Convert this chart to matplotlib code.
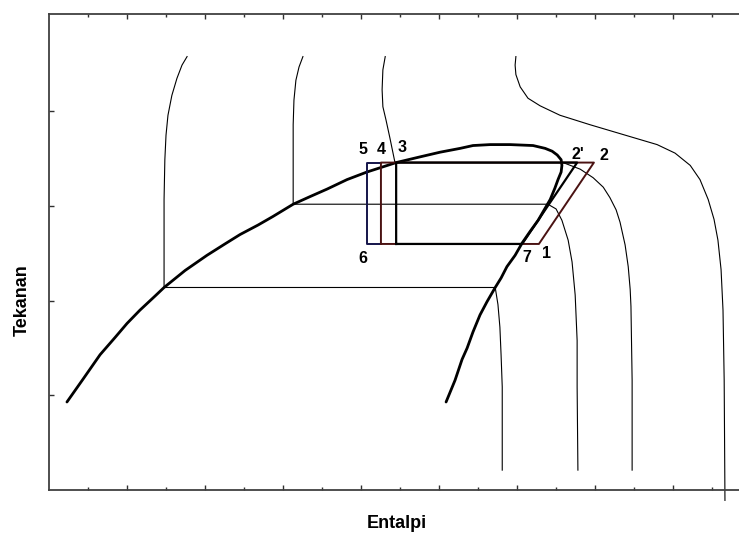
import numpy as np
from matplotlib import pyplot as plt

plt.rcParams['font.family'] = ['Liberation Sans', 'DejaVu Sans']

# saturation dome (enthalpy, pressure): liquid side -> top -> vapour side
dome_h = [0.46, 0.87, 1.31, 1.69, 2.00, 2.33, 2.72, 2.95, 3.49, 4.05, 4.51, 4.90,
          5.36, 5.74, 6.26, 6.69, 7.13, 7.64, 8.15, 8.90, 9.51, 10.03, 10.54, 10.87,
          11.31, 11.82, 12.41, 12.72, 12.90, 13.03, 13.13, 13.15, 13.13, 13.05,
          12.97, 12.90, 12.85,
          12.54, 12.33, 12.13, 11.95, 11.74, 11.59, 11.44, 11.23, 11.05, 10.87,
          10.72, 10.59, 10.41, 10.18]
dome_p = [1.93, 2.17, 2.43, 2.61, 2.76, 2.90, 3.05, 3.14, 3.32, 3.48, 3.60, 3.70,
          3.80, 3.89, 4.02, 4.10, 4.18, 4.28, 4.36, 4.46, 4.52, 4.57, 4.61, 4.64,
          4.65, 4.65, 4.64, 4.61, 4.58, 4.54, 4.49, 4.43, 4.36, 4.28,
          4.19, 4.12, 4.07,
          3.85, 3.73, 3.61, 3.48, 3.36, 3.24, 3.14, 2.99, 2.85, 2.67,
          2.50, 2.38, 2.16, 1.93]

# isotherms (liquid branch, isobar across the dome, vapour branch)
t1_h = [3.54, 3.41, 3.28, 3.15, 3.05, 3.00, 2.97, 2.95, 2.95,
        11.44, 11.51, 11.56, 11.59, 11.62, 11.62]
t1_p = [5.58, 5.49, 5.35, 5.17, 4.96, 4.75, 4.49, 4.07, 3.14,
        3.14, 2.96, 2.72, 2.43, 2.09, 1.21]
t2_h = [6.51, 6.41, 6.33, 6.28, 6.26, 6.26,
        12.79, 13.00, 13.15, 13.31, 13.41, 13.49, 13.54, 13.54, 13.56]
t2_p = [5.58, 5.47, 5.33, 5.12, 4.86, 4.02,
        4.02, 3.97, 3.85, 3.64, 3.41, 3.06, 2.58, 2.09, 1.21]
t3_h = [8.62, 8.56, 8.54, 8.56, 8.64, 8.74, 8.87,
        13.18, 13.62, 13.95, 14.21, 14.38, 14.54, 14.64, 14.77, 14.85, 14.90,
        14.92, 14.95, 14.95]
t3_p = [5.58, 5.44, 5.23, 5.05, 4.91, 4.72, 4.46,
        4.46, 4.39, 4.30, 4.20, 4.09, 3.96, 3.83, 3.59, 3.36, 3.12,
        2.94, 2.16, 1.21]
t4_h = [11.97, 11.95, 11.97, 12.08, 12.28, 12.59, 13.10, 13.87, 14.77, 15.59,
        16.05, 16.44, 16.69, 16.90, 17.05, 17.15, 17.23, 17.28, 17.31, 17.33]
t4_p = [5.58, 5.49, 5.39, 5.26, 5.14, 5.06, 4.96, 4.86, 4.75, 4.65,
        4.56, 4.43, 4.28, 4.07, 3.86, 3.64, 3.33, 2.90, 2.16, 0.89]

# cycle states
p_high = 4.46
p_low = 3.60
h_state = {'1': 12.56, "2": 13.97, "2'": 13.54, '3': 8.90, '4': 8.51, '5': 8.15,
           '6': 8.15, '7': 12.13}

fig = plt.figure(figsize=(7.39, 5.42), dpi=100)
ax = fig.add_axes([49/739, 52/542, 690/739, 476/542])
ax.set_xlim(0, 17.69)
ax.set_ylim(1.0, 6.03)

thin = dict(color='black', linewidth=0.8, solid_joinstyle='round')
ax.plot(t1_h, t1_p, **thin)
ax.plot(t2_h, t2_p, **thin)
ax.plot(t3_h, t3_p, **thin)
ax.plot(t4_h, t4_p, clip_on=False, **thin)

ax.plot(dome_h, dome_p, color='black', linewidth=2.0,
        solid_capstyle='round', solid_joinstyle='round')

h = h_state
red = '#4a1212'
blue = '#14144a'
# subcooled variant (5-6)
ax.plot([h['4'], h['5'], h['6'], h['4']], [p_high, p_high, p_low, p_low],
        color=blue, linewidth=1.4)
# superheated variant (4-2-1)
ax.plot([h['4'], h['4'], h['2'], h['1'], h['4']],
        [p_low, p_high, p_high, p_low, p_low], color=red, linewidth=1.4)
# saturated cycle (3-2'-7)
ax.plot([h['3'], h['3'], h["2'"], h['7'], h['3']],
        [p_low, p_high, p_high, p_low, p_low], color='black', linewidth=1.6)

lab = dict(fontsize=11.5, fontweight='bold', ha='center', va='center')
ax.text(h['5'] - 0.1, p_high + 0.14, '5', **lab)
ax.text(h['4'] + 0.02, p_high + 0.14, '4', **lab)
ax.text(h['3'] + 0.15, p_high + 0.16, '3', **lab)
ax.text(h["2'"] + 0.02, p_high + 0.09, "2'", **lab)
ax.text(h['2'] + 0.25, p_high + 0.08, '2', **lab)
ax.text(h['6'] - 0.1, p_low - 0.15, '6', **lab)
ax.text(h['7'] + 0.12, p_low - 0.14, '7', **lab)
ax.text(h['1'] + 0.2, p_low - 0.10, '1', **lab)

for s in ['left', 'top', 'bottom']:
    ax.spines[s].set_color('#404040')
    ax.spines[s].set_linewidth(1.3)
ax.spines['right'].set_visible(False)

ax.set_xticks(np.arange(2, 18, 2))
ax.set_xticks(np.arange(1, 18, 2), minor=True)
ax.set_yticks([2, 3, 4, 5])
ax.tick_params(which='both', direction='in', top=True, bottom=True, left=True,
               right=False, labelbottom=False, labelleft=False,
               color='#303030', width=1.0)
ax.tick_params(which='major', length=3.5)
ax.tick_params(which='minor', length=2.5)

fig.text(22/739, 1 - 300/542, 'Tekanan', rotation=90, fontsize=13,
         fontweight='bold', ha='center', va='center')
fig.text(397/739, 1 - 523/542, 'Entalpi', fontsize=13,
         fontweight='bold', ha='center', va='center')

fig.savefig('out.png', dpi=100)
